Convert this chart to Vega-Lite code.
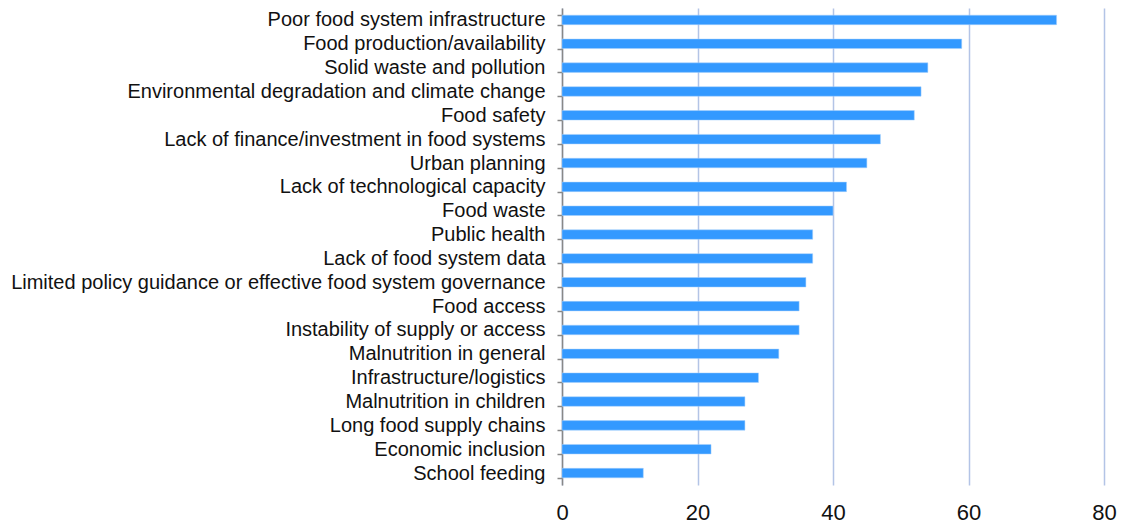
{
  "$schema": "https://vega.github.io/schema/vega-lite/v6.json",
  "width": 542,
  "height": 477,
  "autosize": {"type": "none"},
  "padding": {"left": 562, "top": 8, "right": 19, "bottom": 42},
  "background": "white",
  "config": {
    "view": {"stroke": null},
    "font": "Liberation Sans"
  },
  "data": {
    "values": [
      {"issue": "Poor food system infrastructure", "count": 73},
      {"issue": "Food production/availability", "count": 59},
      {"issue": "Solid waste and pollution", "count": 54},
      {"issue": "Environmental degradation and climate change", "count": 53},
      {"issue": "Food safety", "count": 52},
      {"issue": "Lack of finance/investment in food systems", "count": 47},
      {"issue": "Urban planning", "count": 45},
      {"issue": "Lack of technological capacity", "count": 42},
      {"issue": "Food waste", "count": 40},
      {"issue": "Public health", "count": 37},
      {"issue": "Lack of food system data", "count": 37},
      {"issue": "Limited policy guidance or effective food system governance", "count": 36},
      {"issue": "Food access", "count": 35},
      {"issue": "Instability of supply or access", "count": 35},
      {"issue": "Malnutrition in general", "count": 32},
      {"issue": "Infrastructure/logistics", "count": 29},
      {"issue": "Malnutrition in children", "count": 27},
      {"issue": "Long food supply chains", "count": 27},
      {"issue": "Economic inclusion", "count": 22},
      {"issue": "School feeding", "count": 12}
    ]
  },
  "mark": {"type": "bar", "color": "#3399ff", "stroke": "#a9d0fb", "strokeWidth": 0.5},
  "encoding": {
    "y": {
      "field": "issue",
      "type": "nominal",
      "sort": null,
      "scale": {"paddingInner": 0.6, "paddingOuter": 0.3},
      "axis": {
        "title": null,
        "tickBand": "extent",
        "tickSize": 5,
        "tickColor": "#888888",
        "tickWidth": 1.5,
        "domainColor": "#888888",
        "domainWidth": 1.5,
        "labelFontSize": 20,
        "labelColor": "#111111",
        "labelPadding": 12,
        "labelLimit": 600,
        "grid": false
      }
    },
    "x": {
      "field": "count",
      "type": "quantitative",
      "scale": {"domain": [0, 80], "nice": false},
      "axis": {
        "title": null,
        "values": [0, 20, 40, 60, 80],
        "domain": false,
        "ticks": false,
        "grid": true,
        "gridColor": "#b3c4e6",
        "gridWidth": 1.5,
        "labelFlush": false,
        "labelFontSize": 22,
        "labelColor": "#111111",
        "labelPadding": 17
      }
    }
  }
}
